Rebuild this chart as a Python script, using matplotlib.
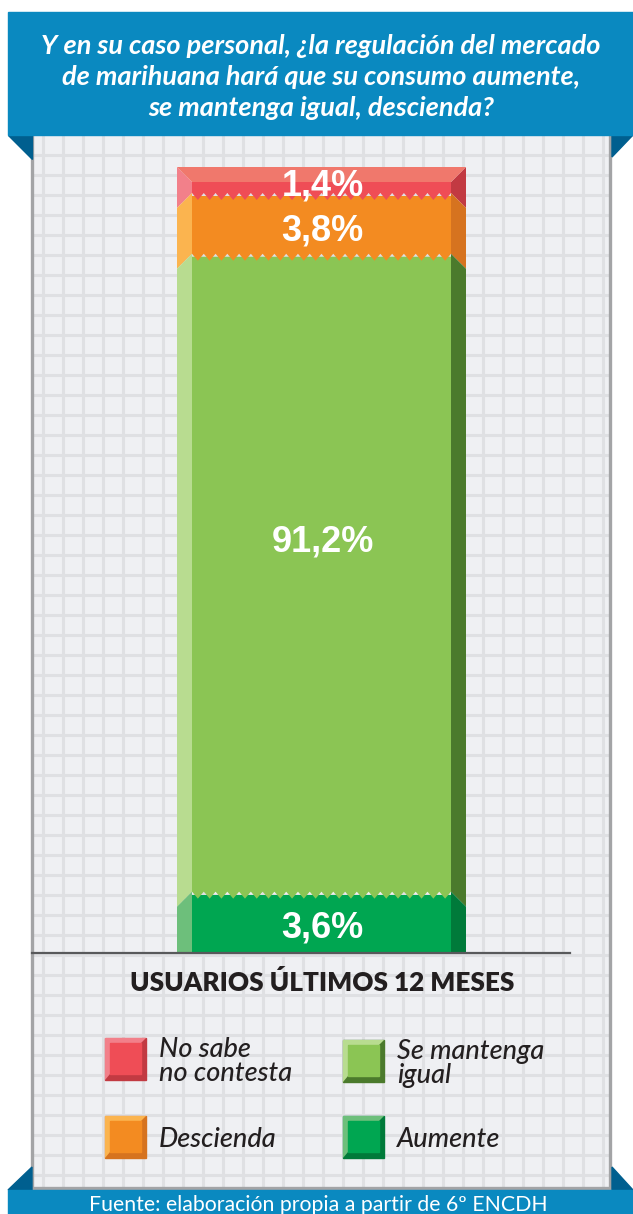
import numpy as np
import matplotlib
matplotlib.use("Agg")
import matplotlib.pyplot as plt
from matplotlib.patches import Polygon, Rectangle
from matplotlib import font_manager as fm

# data (top of the bar first)
categories = ["No sabe\nno contesta", "Descienda", "Se mantenga\nigual", "Aumente"]
values = [1.4, 3.8, 91.2, 3.6]
title_lines = ["Y en su caso personal, ¿la regulación del mercado",
               "de marihuana hará que su consumo aumente,",
               "se mantenga igual, descienda?"]
group_label = "USUARIOS ÚLTIMOS 12 MESES"
source = "Fuente: elaboración propia a partir de 6º ENCDH"

# colours per segment: front, light side, dark side, top
front = ["#ef4d56", "#f38b21", "#8bc554", "#00a651"]
light = ["#f2808a", "#fbb44f", "#b8dc90", "#6dbf7b"]
dark = ["#c23a42", "#d6731f", "#4b7a2c", "#007a3a"]
top_face = "#f0786c"

blue = "#0a89c0"
blue_dark = "#005f8f"
bg = "#eff0f3"
grid_c = "#dfe0e3"


def pick_font(names):
    for n in names:
        try:
            fm.findfont(fm.FontProperties(family=n), fallback_to_default=False)
            return n
        except Exception:
            pass
    return "DejaVu Sans"


narrow = pick_font(["Liberation Sans Narrow", "Liberation Sans", "DejaVu Sans"])
hum = pick_font(["Lato", "Open Sans", "DejaVu Sans"])

W, H = 633, 1214
fig = plt.figure(figsize=(W / 100, H / 100), dpi=100)
ax = fig.add_axes([0, 0, 1, 1])
ax.set_xlim(0, W)
ax.set_ylim(H, 0)
ax.axis("off")
fig.patch.set_facecolor("white")

# grid panel
px0, px1, py0, py1 = 32, 610, 135, 1190
ax.add_patch(Rectangle((px0, py0), px1 - px0, py1 - py0, color=bg, zorder=0))
gx = np.arange(43, px1, 20)
gy = np.arange(155, py1, 20)
ax.vlines(gx, py0, py1, color=grid_c, lw=2.2, zorder=0.5)
ax.hlines(gy, px0, px1, color=grid_c, lw=2.2, zorder=0.5)
ax.plot([px0, px0, px1, px1], [py0, py1 - 2, py1 - 2, py0], color="#a3a4a6", lw=2.4, zorder=1)

# header banner and footer with folded corners
ax.add_patch(Rectangle((8, 12), W - 8, 123, color=blue, zorder=5))
ax.add_patch(Polygon([(8, 135), (32, 135), (32, 159)], color=blue_dark, zorder=4))
ax.add_patch(Polygon([(612, 135), (W, 135), (612, 157)], color=blue_dark, zorder=4))
ax.add_patch(Rectangle((8, 1190), W - 8, 30, color=blue, zorder=5))
ax.add_patch(Polygon([(8, 1190), (32, 1167), (32, 1190)], color=blue_dark, zorder=4))
ax.add_patch(Polygon([(612, 1167), (W, 1190), (612, 1190)], color=blue_dark, zorder=4))

for i, line in enumerate(title_lines):
    ax.text(321, 54 + 31 * i, line, ha="center", va="baseline", color="white",
            fontsize=19.5, family=hum, style="italic", weight="bold", zorder=6)
ax.text(318, 1211, source, ha="center", va="baseline", color="white",
        fontsize=15.3, family=hum, zorder=6)

# stacked bar, heights compressed like the original (power 0.74)
bx0, bx1, bev = 177, 466, 15
btop, bbase = 167, 953
h = np.array(values) ** 0.74
h = h / h.sum() * (bbase - btop)
edges = btop + np.concatenate([[0], np.cumsum(h)])
n = len(values)

# fronts from bottom to top so teeth overlap the segment below
nz = 45
for i in reversed(range(n)):
    t, b = edges[i], edges[i + 1]
    if i < n - 1:
        xs = np.linspace(bx0 + bev, bx1 - bev, nz)
        ys = np.where(np.arange(nz) % 2 == 0, b - 3, b + 4)
        pts = [(bx0 + bev, t)] + list(zip(xs, ys)) + [(bx1 - bev, t)]
    else:
        pts = [(bx0 + bev, t), (bx0 + bev, b), (bx1 - bev, b), (bx1 - bev, t)]
    ax.add_patch(Polygon(pts, color=front[i], zorder=2, lw=0))

for i in range(n):
    t, b = edges[i], edges[i + 1]
    if i == 0:
        ti, to = btop + bev, btop
    else:
        ti, to = t - 3, t - 3 + bev
    if i == n - 1:
        bi, bo = bbase, bbase
    else:
        bi, bo = b - 3, b - 3 + bev
    ax.add_patch(Polygon([(bx0, to), (bx0 + bev, ti), (bx0 + bev, bi), (bx0, bo)],
                         color=light[i], zorder=2.5, lw=0))
    ax.add_patch(Polygon([(bx1, to), (bx1 - bev, ti), (bx1 - bev, bi), (bx1, bo)],
                         color=dark[i], zorder=2.5, lw=0))
ax.add_patch(Polygon([(bx0, btop), (bx1, btop), (bx1 - bev, btop + bev), (bx0 + bev, btop + bev)],
                     color=top_face, zorder=2.6, lw=0))

for i, v in enumerate(values):
    t, b = edges[i], edges[i + 1]
    yc = t + (b - t) * (0.44 if v > 50 else 0.5)
    ax.text((bx0 + bx1) / 2 + 1, yc + 14, f"{v:.1f}%".replace(".", ","), ha="center",
            va="baseline", color="white", fontsize=26, family=narrow, weight="bold", zorder=3)

ax.plot([px0, 570], [bbase, bbase], color="#58595b", lw=1.6, zorder=3)
ax.text(322, 991, group_label, ha="center", va="baseline", color="#231f20",
        fontsize=18.8, family=hum, weight="heavy", zorder=3)

# legend: bevelled squares
pos = [(105, 1038), (105, 1116), (343, 1040), (343, 1116)]
sq, sb = 41, 5
for i, lab in enumerate(categories):
    x, y = pos[i]
    ax.add_patch(Rectangle((x, y), sq, sq + 1, color=dark[i], zorder=2))
    ax.add_patch(Polygon([(x, y), (x + sq, y), (x + sq - sb, y + sb), (x + sb, y + sb),
                          (x + sb, y + sq - sb), (x, y + sq + 1)], color=light[i], zorder=2.1, lw=0))
    ax.add_patch(Rectangle((x + sb, y + sb), sq - 2 * sb, sq - 2 * sb, color=front[i], zorder=2.2))
    ax.text(x + 54, y + sq / 2 + 3, lab, ha="left", va="center", color="#231f20",
            fontsize=19.5, family=hum, style="italic", weight="medium", linespacing=0.95, zorder=3)

fig.savefig("out.png", dpi=100, facecolor="white")
